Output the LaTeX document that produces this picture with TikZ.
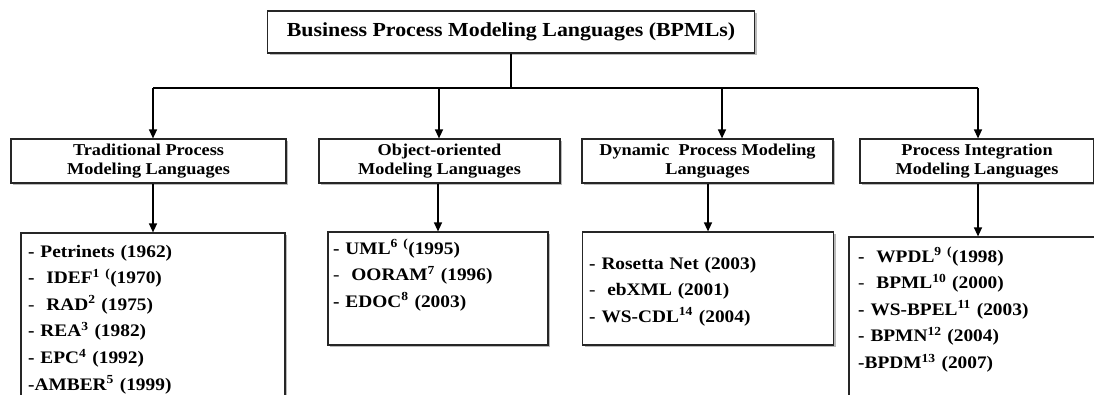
\documentclass[tikz,border=0pt]{standalone}
\usepackage{fontspec}
\setmainfont{Liberation Serif}[FakeStretch=1.1]
\usetikzlibrary{arrows.meta,shadows}
\tikzset{
  box/.style={draw=black!85, line width=1.2pt, fill=white, inner sep=0pt,
    drop shadow={shadow xshift=2pt, shadow yshift=-2pt, fill=black!45, opacity=0.6}},
  titlebox/.style={box, font=\fontsize{19.9}{22}\selectfont\bfseries},
  headbox/.style={box, align=center, font=\fontsize{16.6}{19}\selectfont\bfseries},
  listtext/.style={anchor=base west, inner sep=0pt, text width=250pt, align=left,
    font=\fontsize{17.6}{26.6}\selectfont\bfseries},
  conn/.style={line width=1.3pt, draw=black},
  arr/.style={conn, -{Triangle[width=8pt,length=9pt]}},
}
\newcommand{\thin}{\textmd{-}}
\begin{document}
\begin{tikzpicture}[x=1pt,y=-1pt]
\useasboundingbox (0,0) rectangle (1094,394);
\clip (0,0) rectangle (1094,394);
\fill[white] (0,0) rectangle (1094,394);

% title
\node[titlebox, minimum width=487pt, minimum height=42pt] (title) at (511,32)
  {Business Process Modeling Languages (BPMLs)};

% headers
\node[headbox, minimum width=275pt, minimum height=44pt] (trad) at (148.5,161)
  {Traditional Process\\Modeling Languages};
\node[headbox, minimum width=241pt, minimum height=44pt] (oo) at (439.5,161)
  {Object-oriented\\Modeling Languages};
\node[headbox, minimum width=251pt, minimum height=44pt] (dyn) at (707.5,161)
  {Dynamic\ \ Process Modeling\\Languages};
\node[headbox, minimum width=234pt, minimum height=44pt] (pi) at (977,161)
  {Process Integration\\Modeling Languages};

% list boxes
\node[box, minimum width=264pt, minimum height=187pt] (tradlist) at (153,326.5) {};
\node[box, minimum width=220pt, minimum height=113pt] (oolist) at (438,288.5) {};
\node[box, minimum width=251pt, minimum height=113pt] (dynlist) at (708,288.5) {};
\node[box, minimum width=258pt, minimum height=183pt] (pilist) at (978,328.5) {};

% list texts
\node[listtext] (tradtext) at (28,257) {%
- Petrinets (1962)\\
-\ \ IDEF\textsuperscript{1 (}(1970)\\
\thin\ \ RAD\textsuperscript{2} (1975)\\
- REA\textsuperscript{3} (1982)\\
- EPC\textsuperscript{4} (1992)\\
-AMBER\textsuperscript{5} (1999)};
\node[listtext] (ootext) at (333,254) {%
- UML\textsuperscript{6 (}(1995)\\
\thin\ \ OORAM\textsuperscript{7} (1996)\\
- EDOC\textsuperscript{8} (2003)};
\node[listtext] (dyntext) at (589,269) {%
- Rosetta Net (2003)\\
\thin\ \ ebXML (2001)\\
- WS-CDL\textsuperscript{14} (2004)};
\node[listtext] (pitext) at (858,262) {%
-\ \ WPDL\textsuperscript{9 (}(1998)\\
\thin\ \ BPML\textsuperscript{10} (2000)\\
- WS-BPEL\textsuperscript{11} (2003)\\
- BPMN\textsuperscript{12} (2004)\\
-BPDM\textsuperscript{13} (2007)};

% connectors
\coordinate (j) at (511,88);
\coordinate (d1) at (153,88);
\coordinate (d2) at (439,88);
\coordinate (d3) at (722,88);
\coordinate (d4) at (978,88);
\draw[conn] (title.south) -- (j);
\draw[conn] (d1) -- (d4);
\draw[arr] (d1) -- (d1 |- trad.north);
\draw[arr] (d2) -- (d2 |- oo.north);
\draw[arr] (d3) -- (d3 |- dyn.north);
\draw[arr] (d4) -- (d4 |- pi.north);

\draw[arr] (tradlist.north |- trad.south) -- (tradlist.north);
\draw[arr] (oolist.north |- oo.south) -- (oolist.north);
\draw[arr] (dynlist.north |- dyn.south) -- (dynlist.north);
\draw[arr] (pilist.north |- pi.south) -- (pilist.north);
\end{tikzpicture}
\end{document}
